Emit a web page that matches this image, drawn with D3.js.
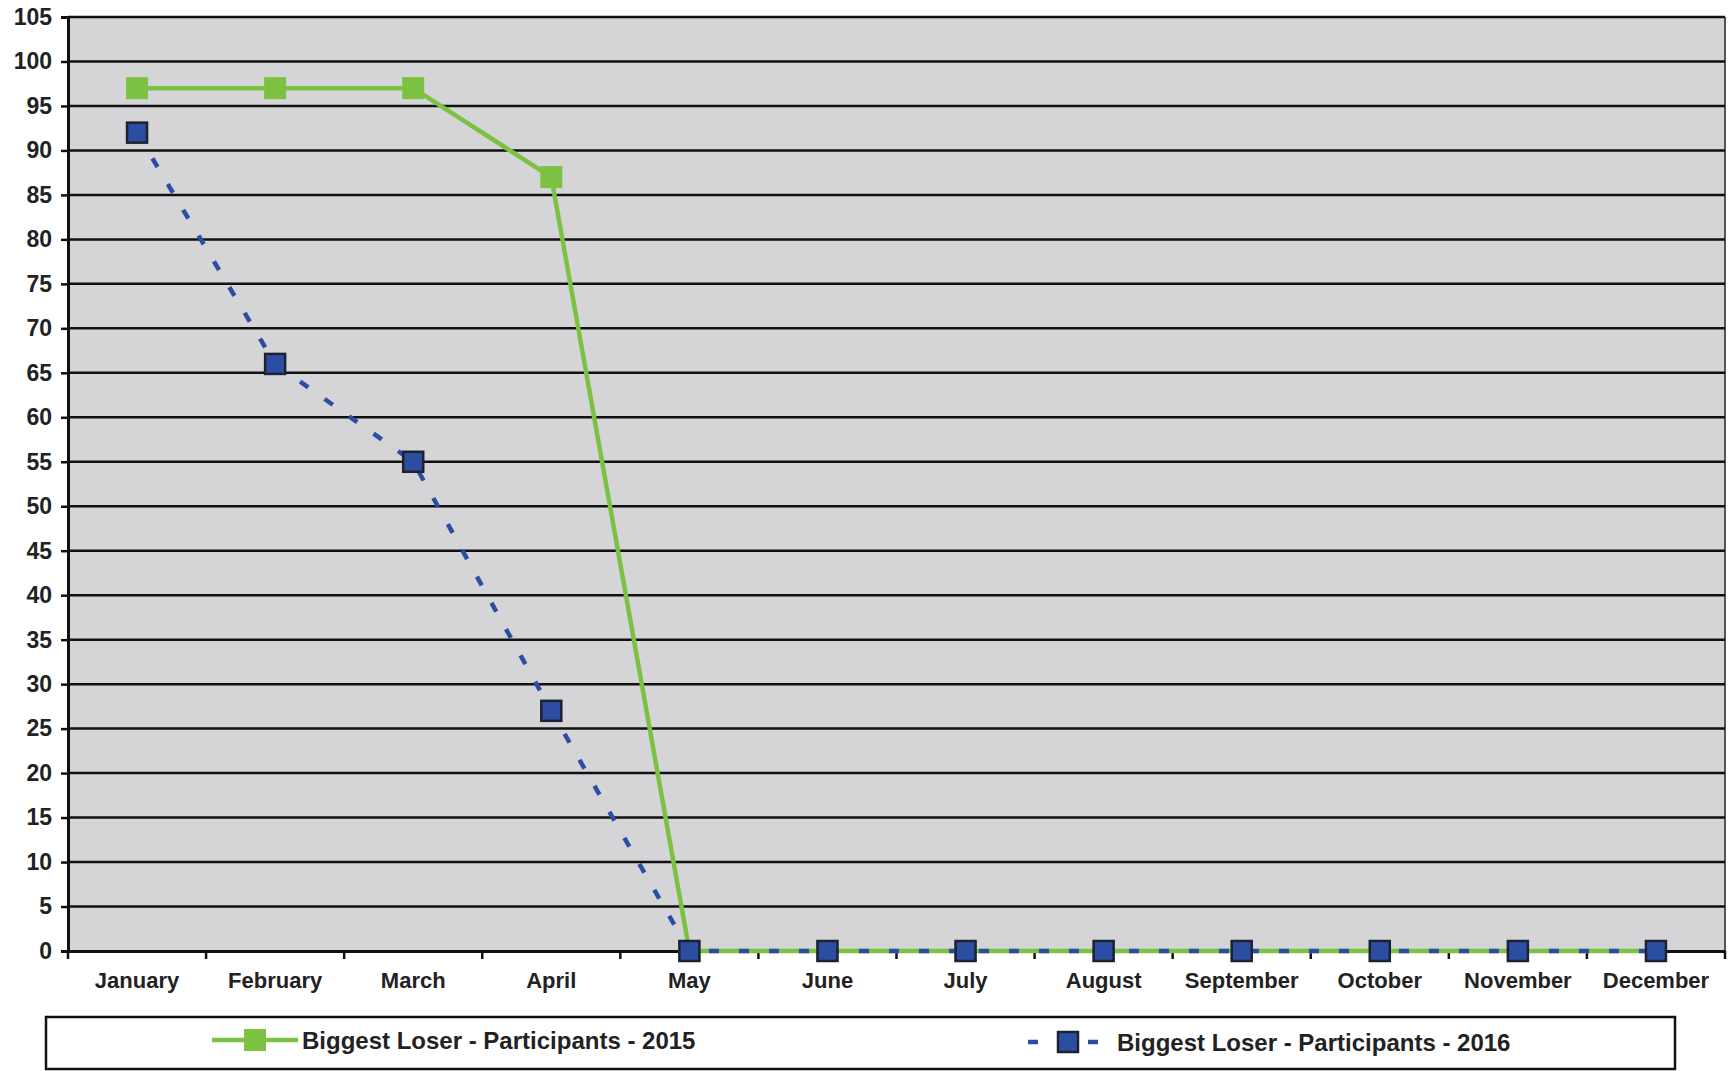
<!DOCTYPE html>
<html>
<head>
<meta charset="utf-8">
<script src="https://cdn.jsdelivr.net/npm/d3@7"></script>
<style>
  html, body { margin: 0; padding: 0; background: #ffffff; }
  svg { display: block; }
  text { font-family: "Liberation Sans", Arial, sans-serif; font-weight: bold; fill: #222; }
</style>
</head>
<body>
<svg id="chart" width="1728" height="1071"></svg>
<script>
const months = ["January","February","March","April","May","June","July","August","September","October","November","December"];
const values2015 = [97, 97, 97, 87, 0, 0, 0, 0, 0, 0, 0, 0];
const values2016 = [92, 66, 55, 27, 0, 0, 0, 0, 0, 0, 0, 0];
const yTicks = d3.range(0, 106, 5);
const seriesNames = ["Biggest Loser - Participants - 2015", "Biggest Loser - Participants - 2016"];

(function () {
const svg = d3.select("#chart");
const pLeft = 68, pRight = 1725, pTop = 17, pBottom = 951;

const x = d3.scaleBand().domain(months).range([pLeft, pRight]).padding(0);
const y = d3.scaleLinear().domain([0, 105]).range([pBottom, pTop]);
const cx = d => x(d) + x.bandwidth() / 2;

// plot background
svg.append("rect")
  .attr("x", pLeft).attr("y", pTop)
  .attr("width", pRight - pLeft).attr("height", pBottom - pTop)
  .attr("fill", "#d5d5d7");

// right border
svg.append("line")
  .attr("x1", pRight).attr("x2", pRight).attr("y1", pTop).attr("y2", pBottom + 4)
  .attr("stroke", "#555").attr("stroke-width", 2);

// gridlines + y axis
const yAxis = d3.axisLeft(y).tickValues(yTicks).tickSize(7).tickPadding(9).tickFormat(d3.format("d"));
const gy = svg.append("g").attr("transform", `translate(${pLeft},0)`).call(yAxis);
gy.select(".domain").attr("stroke", "#111").attr("stroke-width", 3);
gy.selectAll(".tick line").attr("stroke", "#111").attr("stroke-width", 2.5);
gy.selectAll(".tick text").style("font-size", "23px").attr("fill", "#222")
  .style("font-family", "'Liberation Sans', Arial, sans-serif").style("font-weight", "bold");

svg.append("g").selectAll("line").data(yTicks.filter(d => d > 0)).join("line")
  .attr("x1", pLeft).attr("x2", pRight)
  .attr("y1", d => y(d)).attr("y2", d => y(d))
  .attr("stroke", "#111").attr("stroke-width", 2.5);

// x axis
const xAxis = d3.axisBottom(x).tickSize(0).tickPadding(21);
const gx = svg.append("g").attr("transform", `translate(0,${pBottom})`).call(xAxis);
gx.select(".domain").attr("stroke", "#111").attr("stroke-width", 3);
gx.selectAll(".tick text").style("font-size", "22px").attr("fill", "#222")
  .style("font-family", "'Liberation Sans', Arial, sans-serif").style("font-weight", "bold");

// boundary tick marks
svg.append("g").selectAll("line").data(months.concat(["__end"])).join("line")
  .attr("x1", d => d === "__end" ? pRight : x(d))
  .attr("x2", d => d === "__end" ? pRight : x(d))
  .attr("y1", pBottom).attr("y2", pBottom + 8)
  .attr("stroke", "#111").attr("stroke-width", 2.5);

const green = "#7cc242", blue = "#2b4ea3", blueStroke = "#1d2130";

const line = d3.line().x((d, i) => cx(months[i])).y(d => y(d));

// 2015 series
svg.append("path").datum(values2015)
  .attr("d", line).attr("fill", "none")
  .attr("stroke", green).attr("stroke-width", 4.5);

// 2016 series
svg.append("path").datum(values2016)
  .attr("d", line).attr("fill", "none")
  .attr("stroke", blue).attr("stroke-width", 4.5)
  .attr("stroke-dasharray", "10,20");

// markers 2015
svg.append("g").selectAll("rect").data(values2015).join("rect")
  .attr("x", (d, i) => cx(months[i]) - 11)
  .attr("y", d => y(d) - 11)
  .attr("width", 22).attr("height", 22)
  .attr("fill", green);

// markers 2016
svg.append("g").selectAll("rect").data(values2016).join("rect")
  .attr("x", (d, i) => cx(months[i]) - 10)
  .attr("y", d => y(d) - 10)
  .attr("width", 20).attr("height", 20)
  .attr("fill", blue).attr("stroke", blueStroke).attr("stroke-width", 2.5);

// legend
const lg = svg.append("g");
lg.append("rect")
  .attr("x", 46).attr("y", 1017).attr("width", 1629).attr("height", 52)
  .attr("fill", "#fff").attr("stroke", "#111").attr("stroke-width", 2.5);

lg.append("line").attr("x1", 212).attr("x2", 298).attr("y1", 1040).attr("y2", 1040)
  .attr("stroke", green).attr("stroke-width", 4.5);
lg.append("rect").attr("x", 244).attr("y", 1029).attr("width", 22).attr("height", 22).attr("fill", green);
lg.append("text").attr("x", 302).attr("y", 1040).attr("dy", "0.36em")
  .style("font-size", "24px").text(seriesNames[0]);

lg.append("line").attr("x1", 1028).attr("x2", 1100).attr("y1", 1042).attr("y2", 1042)
  .attr("stroke", blue).attr("stroke-width", 4.5).attr("stroke-dasharray", "10,20");
lg.append("rect").attr("x", 1058).attr("y", 1032).attr("width", 20).attr("height", 20)
  .attr("fill", blue).attr("stroke", blueStroke).attr("stroke-width", 2.5);
lg.append("text").attr("x", 1117).attr("y", 1042).attr("dy", "0.36em")
  .style("font-size", "24px").text(seriesNames[1]);
})();
</script>
</body>
</html>
